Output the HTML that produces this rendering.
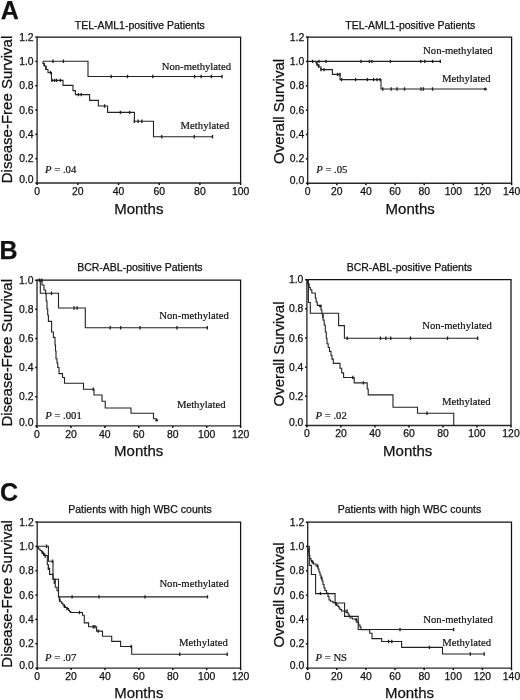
<!DOCTYPE html>
<html>
<head>
<meta charset="utf-8">
<title>Kaplan-Meier survival curves</title>
<style>
html,body{margin:0;padding:0;background:#fff;}
body{width:520px;height:700px;overflow:hidden;font-family:"Liberation Sans",sans-serif;}
svg{display:block;}
.tx{filter:blur(0.3px);}
text{fill:#111;}
</style>
</head>
<body>
<svg width="520" height="700" viewBox="0 0 520 700">
<rect x="0" y="0" width="520" height="700" fill="#ffffff"/>
<g class="ln">
<path d="M37.1,37.1 H240.6 V183.0" fill="none" stroke="#111" stroke-width="1.25"/>
<path d="M37.1,36.6 V183.0 H241.1" fill="none" stroke="#2a2a2a" stroke-width="1.35"/>
<path d="M35.300000000000004,183.00 H37.1" stroke="#111" stroke-width="1.5"/>
<path d="M35.300000000000004,158.68 H37.1" stroke="#111" stroke-width="1.5"/>
<path d="M35.300000000000004,134.37 H37.1" stroke="#111" stroke-width="1.5"/>
<path d="M35.300000000000004,110.05 H37.1" stroke="#111" stroke-width="1.5"/>
<path d="M35.300000000000004,85.73 H37.1" stroke="#111" stroke-width="1.5"/>
<path d="M35.300000000000004,61.42 H37.1" stroke="#111" stroke-width="1.5"/>
<path d="M35.300000000000004,37.10 H37.1" stroke="#111" stroke-width="1.5"/>
<path d="M37.10,183.0 V185.0" stroke="#111" stroke-width="1.5"/>
<path d="M77.80,183.0 V185.0" stroke="#111" stroke-width="1.5"/>
<path d="M118.50,183.0 V185.0" stroke="#111" stroke-width="1.5"/>
<path d="M159.20,183.0 V185.0" stroke="#111" stroke-width="1.5"/>
<path d="M199.90,183.0 V185.0" stroke="#111" stroke-width="1.5"/>
<path d="M240.60,183.0 V185.0" stroke="#111" stroke-width="1.5"/>
<path d="M43,61.3 H88 V76.5 H222.3" fill="none" stroke="#222" stroke-width="1.1" stroke-linejoin="miter"/>
<path d="M43,61.3 V63.5 H44.5 V66 H46 V69.5 H48 V72.5 H51.5 V80.4 H63 V85.4 H73 V90.6 H75.4 V94.6 H89.6 V100.4 H98.4 V106 H107.6 V112.4 H134.4 V121.2 H153.5 V136.75 H213" fill="none" stroke="#222" stroke-width="1.1" stroke-linejoin="miter"/>
<path d="M53,59.6V63.0M63.4,59.6V63.0M111.2,74.8V78.2M127.5,74.8V78.2M152.8,74.8V78.2M194.6,74.8V78.2M201.2,74.8V78.2M211.4,74.8V78.2M222,74.8V78.2M52,78.7V82.1M54.6,78.7V82.1M56.6,78.7V82.1M60.4,78.7V82.1M78.4,92.9V96.3M81.2,92.9V96.3M104.6,104.3V107.7M120.4,110.7V114.1M129.6,110.7V114.1M134.4,119.5V122.9M138.1,119.5V122.9M141.8,119.5V122.9M161.75,135.05V138.45M194.25,135.05V138.45M212.5,135.05V138.45M44,62.8V66.2M46,66.3V69.7M50.5,70.8V74.2" fill="none" stroke="#222" stroke-width="1.35"/>
<path d="M307.7,37.1 H511.6 V183.2" fill="none" stroke="#111" stroke-width="1.25"/>
<path d="M307.7,36.6 V183.2 H512.1" fill="none" stroke="#2a2a2a" stroke-width="1.35"/>
<path d="M305.9,183.20 H307.7" stroke="#111" stroke-width="1.5"/>
<path d="M305.9,158.85 H307.7" stroke="#111" stroke-width="1.5"/>
<path d="M305.9,134.50 H307.7" stroke="#111" stroke-width="1.5"/>
<path d="M305.9,110.15 H307.7" stroke="#111" stroke-width="1.5"/>
<path d="M305.9,85.80 H307.7" stroke="#111" stroke-width="1.5"/>
<path d="M305.9,61.45 H307.7" stroke="#111" stroke-width="1.5"/>
<path d="M305.9,37.10 H307.7" stroke="#111" stroke-width="1.5"/>
<path d="M307.70,183.2 V185.2" stroke="#111" stroke-width="1.5"/>
<path d="M336.83,183.2 V185.2" stroke="#111" stroke-width="1.5"/>
<path d="M365.96,183.2 V185.2" stroke="#111" stroke-width="1.5"/>
<path d="M395.09,183.2 V185.2" stroke="#111" stroke-width="1.5"/>
<path d="M424.21,183.2 V185.2" stroke="#111" stroke-width="1.5"/>
<path d="M453.34,183.2 V185.2" stroke="#111" stroke-width="1.5"/>
<path d="M482.47,183.2 V185.2" stroke="#111" stroke-width="1.5"/>
<path d="M511.60,183.2 V185.2" stroke="#111" stroke-width="1.5"/>
<path d="M307.6,61.4 H440.8" fill="none" stroke="#222" stroke-width="1.1" stroke-linejoin="miter"/>
<path d="M316,61.3 V63 H317 V65 H319 V67 H321 V69.6 H332.4 V74.4 H340 V79.6 H381 V89 H485.5" fill="none" stroke="#222" stroke-width="1.1" stroke-linejoin="miter"/>
<path d="M312.6,59.7V63.1M319,59.7V63.1M326,59.7V63.1M361,59.7V63.1M369.4,59.7V63.1M371.9,59.7V63.1M390.4,59.7V63.1M420.8,59.7V63.1M424.8,59.7V63.1M432.6,59.7V63.1M440.3,59.7V63.1M321,67.9V71.3M324,67.9V71.3M337.6,72.7V76.1M340,72.7V76.1M341.6,77.9V81.3M355.6,77.9V81.3M367.4,77.9V81.3M373.6,77.9V81.3M377,77.9V81.3M380,77.9V81.3M382.8,87.3V90.7M391.1,87.3V90.7M397,87.3V90.7M404.5,87.3V90.7M421,87.3V90.7M423.4,87.3V90.7M432.5,87.3V90.7M317,62.3V65.7M318.5,64.3V67.7" fill="none" stroke="#222" stroke-width="1.35"/>
<circle cx="485.3" cy="89" r="1.5" fill="#222"/>
<path d="M37.0,280.2 H240.6 V425.9" fill="none" stroke="#111" stroke-width="1.25"/>
<path d="M37.0,279.7 V425.9 H241.1" fill="none" stroke="#2a2a2a" stroke-width="1.35"/>
<path d="M35.2,425.90 H37.0" stroke="#111" stroke-width="1.5"/>
<path d="M35.2,396.76 H37.0" stroke="#111" stroke-width="1.5"/>
<path d="M35.2,367.62 H37.0" stroke="#111" stroke-width="1.5"/>
<path d="M35.2,338.48 H37.0" stroke="#111" stroke-width="1.5"/>
<path d="M35.2,309.34 H37.0" stroke="#111" stroke-width="1.5"/>
<path d="M35.2,280.20 H37.0" stroke="#111" stroke-width="1.5"/>
<path d="M37.00,425.9 V427.9" stroke="#111" stroke-width="1.5"/>
<path d="M70.93,425.9 V427.9" stroke="#111" stroke-width="1.5"/>
<path d="M104.87,425.9 V427.9" stroke="#111" stroke-width="1.5"/>
<path d="M138.80,425.9 V427.9" stroke="#111" stroke-width="1.5"/>
<path d="M172.73,425.9 V427.9" stroke="#111" stroke-width="1.5"/>
<path d="M206.67,425.9 V427.9" stroke="#111" stroke-width="1.5"/>
<path d="M240.60,425.9 V427.9" stroke="#111" stroke-width="1.5"/>
<path d="M37.1,280.3 H40.3 V293.3 H58.5 V308 H85.3 V327.8 H207.9" fill="none" stroke="#222" stroke-width="1.1" stroke-linejoin="miter"/>
<path d="M37,280.3 H42 V285 H44 V290 H45.6 V294 H46.2 V301 H47 V309 H47.7 V315 H48.4 V321.4 H51.6 V332 H53.4 V337.4 H55 V345 H55.5 V351 H56 V358.75 H57 V363 H57.75 V367.5 H59 V373.6 H62.5 V377.5 H64.5 V383.25 H83.5 V389.25 H94 V395 H102 V401.25 H105.25 V408 H131 V413.25 H153.5 V418.75 H156.5 V420" fill="none" stroke="#222" stroke-width="1.1" stroke-linejoin="miter"/>
<path d="M51.5,291.6V295.0M74.1,306.3V309.7M77.1,306.3V309.7M110.2,326.1V329.5M120.6,326.1V329.5M140,326.1V329.5M177,326.1V329.5M207.3,326.1V329.5M93.25,387.55V390.95M39.5,278.6V282.0M41.8,278.6V282.0" fill="none" stroke="#222" stroke-width="1.35"/>
<circle cx="156.7" cy="420.3" r="1.3" fill="#222"/>
<path d="M306.9,279.7 H511.0 V425.5" fill="none" stroke="#111" stroke-width="1.25"/>
<path d="M306.9,279.2 V425.5 H511.5" fill="none" stroke="#2a2a2a" stroke-width="1.35"/>
<path d="M305.09999999999997,425.50 H306.9" stroke="#111" stroke-width="1.5"/>
<path d="M305.09999999999997,396.34 H306.9" stroke="#111" stroke-width="1.5"/>
<path d="M305.09999999999997,367.18 H306.9" stroke="#111" stroke-width="1.5"/>
<path d="M305.09999999999997,338.02 H306.9" stroke="#111" stroke-width="1.5"/>
<path d="M305.09999999999997,308.86 H306.9" stroke="#111" stroke-width="1.5"/>
<path d="M305.09999999999997,279.70 H306.9" stroke="#111" stroke-width="1.5"/>
<path d="M306.90,425.5 V427.5" stroke="#111" stroke-width="1.5"/>
<path d="M340.92,425.5 V427.5" stroke="#111" stroke-width="1.5"/>
<path d="M374.93,425.5 V427.5" stroke="#111" stroke-width="1.5"/>
<path d="M408.95,425.5 V427.5" stroke="#111" stroke-width="1.5"/>
<path d="M442.97,425.5 V427.5" stroke="#111" stroke-width="1.5"/>
<path d="M476.98,425.5 V427.5" stroke="#111" stroke-width="1.5"/>
<path d="M511.00,425.5 V427.5" stroke="#111" stroke-width="1.5"/>
<path d="M306.9,279.9 H308.4 V302.5 H310.3 V313.3 H338.6 V325.6 H344.4 V338.3 H478.2" fill="none" stroke="#222" stroke-width="1.1" stroke-linejoin="miter"/>
<path d="M307.6,279.9 V284 H309.2 V287.5 H310.3 V289.8 H311.8 V293 H315.3 V298 H316.1 V302 H317.3 V305.4 H321 V310 H321.9 V314 H323 V320 H324.2 V325 H325.3 V332 H326.3 V338.3 H327 V343.7 H328.2 V347.5 H329.5 V351.4 H331 V355.5 H332 V359.1 H333.3 V363.4 H340 V368.3 H341.7 V372.9 H343.6 V377.5 H354.2 V382.9 H367.2 V389 H368.2 V394.9 H393 V407.2 H417.5 V413.25 H453.75 V425.5" fill="none" stroke="#222" stroke-width="1.1" stroke-linejoin="miter"/>
<path d="M347.2,336.6V340.0M380.5,336.6V340.0M385.9,336.6V340.0M390.7,336.6V340.0M410.5,336.6V340.0M447.5,336.6V340.0M477.6,336.6V340.0M352.8,375.8V379.2M363.4,381.2V384.6M427,411.55V414.95M323,314.5V317.9" fill="none" stroke="#222" stroke-width="1.35"/>
<circle cx="320.2" cy="306.1" r="1.4" fill="#222"/>
<path d="M37.2,522.0 H240.6 V668.1" fill="none" stroke="#111" stroke-width="1.25"/>
<path d="M37.2,521.5 V668.1 H241.1" fill="none" stroke="#2a2a2a" stroke-width="1.35"/>
<path d="M35.400000000000006,668.10 H37.2" stroke="#111" stroke-width="1.5"/>
<path d="M35.400000000000006,643.75 H37.2" stroke="#111" stroke-width="1.5"/>
<path d="M35.400000000000006,619.40 H37.2" stroke="#111" stroke-width="1.5"/>
<path d="M35.400000000000006,595.05 H37.2" stroke="#111" stroke-width="1.5"/>
<path d="M35.400000000000006,570.70 H37.2" stroke="#111" stroke-width="1.5"/>
<path d="M35.400000000000006,546.35 H37.2" stroke="#111" stroke-width="1.5"/>
<path d="M35.400000000000006,522.00 H37.2" stroke="#111" stroke-width="1.5"/>
<path d="M37.20,668.1 V670.1" stroke="#111" stroke-width="1.5"/>
<path d="M71.10,668.1 V670.1" stroke="#111" stroke-width="1.5"/>
<path d="M105.00,668.1 V670.1" stroke="#111" stroke-width="1.5"/>
<path d="M138.90,668.1 V670.1" stroke="#111" stroke-width="1.5"/>
<path d="M172.80,668.1 V670.1" stroke="#111" stroke-width="1.5"/>
<path d="M206.70,668.1 V670.1" stroke="#111" stroke-width="1.5"/>
<path d="M240.60,668.1 V670.1" stroke="#111" stroke-width="1.5"/>
<path d="M37.1,546.3 H48.4 V561.3 H53 V579.2 H58.5 V596.9 H208" fill="none" stroke="#222" stroke-width="1.1" stroke-linejoin="miter"/>
<path d="M37.1,546.3 V547.5 H38.5 V549 H40 V550.5 H41.5 V552 H43 V553.5 H44.3 V555.5 H47.3 V564.8 H48.4 V568.3 H49.6 V574.4 H53 V579.2 H55.3 V587.3 H57 V590.7 H58.5 V596.9 H59.3 V600 H60 V601.7 H61.7 V603.4 H62.9 V604.9 H64.2 V606.3 H65.5 V607.5 H66.9 V608.6 H68.6 V610.4 H69.6 V611.6 H70.7 V612.5 H82.5 V615.2 H84.3 V622.9 H88.6 V626.8 H96.6 V631.1 H102.5 V636.3 H111.7 V641.4 H120.6 V646.5 H131.7 V654.2 H227.7" fill="none" stroke="#222" stroke-width="1.1" stroke-linejoin="miter"/>
<path d="M46.5,544.6V548.0M52.5,559.6V563.0M72.1,595.2V598.6M99,595.2V598.6M145,595.2V598.6M207.5,595.2V598.6M79.5,610.8V614.2M93.2,625.1V628.5M94.9,625.1V628.5M98.2,629.4V632.8M131.2,644.8V648.2M179.7,652.5V655.9M227.2,652.5V655.9M42.3,550.8V554.2M43.8,552.5V555.9M45.2,554.3V557.7M48.4,566.6V570.0M54.3,580.3V583.7M59.8,598.3V601.7M64.4,604.6V608.0M67,606.9V610.3" fill="none" stroke="#222" stroke-width="1.35"/>
<path d="M307.7,522.2 H511.5 V668.1" fill="none" stroke="#111" stroke-width="1.25"/>
<path d="M307.7,521.7 V668.1 H512.0" fill="none" stroke="#2a2a2a" stroke-width="1.35"/>
<path d="M305.9,668.10 H307.7" stroke="#111" stroke-width="1.5"/>
<path d="M305.9,643.78 H307.7" stroke="#111" stroke-width="1.5"/>
<path d="M305.9,619.47 H307.7" stroke="#111" stroke-width="1.5"/>
<path d="M305.9,595.15 H307.7" stroke="#111" stroke-width="1.5"/>
<path d="M305.9,570.83 H307.7" stroke="#111" stroke-width="1.5"/>
<path d="M305.9,546.52 H307.7" stroke="#111" stroke-width="1.5"/>
<path d="M305.9,522.20 H307.7" stroke="#111" stroke-width="1.5"/>
<path d="M307.70,668.1 V670.1" stroke="#111" stroke-width="1.5"/>
<path d="M336.81,668.1 V670.1" stroke="#111" stroke-width="1.5"/>
<path d="M365.93,668.1 V670.1" stroke="#111" stroke-width="1.5"/>
<path d="M395.04,668.1 V670.1" stroke="#111" stroke-width="1.5"/>
<path d="M424.16,668.1 V670.1" stroke="#111" stroke-width="1.5"/>
<path d="M453.27,668.1 V670.1" stroke="#111" stroke-width="1.5"/>
<path d="M482.39,668.1 V670.1" stroke="#111" stroke-width="1.5"/>
<path d="M511.50,668.1 V670.1" stroke="#111" stroke-width="1.5"/>
<path d="M307.6,546.3 H309.3 V565.4 H311.4 V574.5 H315.6 V593.6 H335.1 V603 H344.6 V616.4 H358.2 V629.5 H454" fill="none" stroke="#222" stroke-width="1.1" stroke-linejoin="miter"/>
<path d="M307.8,546.3 V549 H308.4 V552 H309 V555.5 H309.8 V558.6 H311 V560.5 H311.5 V562 H313.5 V564 H316 V566 H318 V569 H319 V572 H320 V575 H321 V578 H322 V581 H323 V584.5 H324 V588 H325 V590.5 H326.5 V593 H328 V596.5 H329 V600 H330.5 V601.3 H333 V602.6 H335.5 V605 H338 V606.5 H339 V608 H340 V609.5 H341.5 V611 H346 V612.5 H348 V614 H349 V616 H350 V618 H352.5 V619 H355.4 V620 H357 V622.5 H358.6 V625 H360 V627 H361 V629.7 H369.7 V633.2 H372 V638.6 H381.7 V641.5 H401.6 V647.4 H442.5 V654 H484.6" fill="none" stroke="#222" stroke-width="1.1" stroke-linejoin="miter"/>
<path d="M320.4,591.7V595.1M400,627.8V631.2M453.6,627.8V631.2M317.6,564.3V567.7M321.6,576.3V579.7M347,609.3V612.7M388.6,639.8V643.2M391.8,639.8V643.2M429.4,645.7V649.1M470.3,652.3V655.7M484.2,652.3V655.7M312.5,560.3V563.7M336.5,602.3V605.7M356.3,618.3V621.7" fill="none" stroke="#222" stroke-width="1.35"/>
</g>
<g class="tx">
<text x="33.6" y="183.4" font-family='"Liberation Sans", sans-serif' font-size="10.4" text-anchor="end" font-weight="normal" font-style="normal" stroke="#111" stroke-width="0.25" >0.0</text>
<text x="33.6" y="162.18" font-family='"Liberation Sans", sans-serif' font-size="10.4" text-anchor="end" font-weight="normal" font-style="normal" stroke="#111" stroke-width="0.25" >0.2</text>
<text x="33.6" y="137.87" font-family='"Liberation Sans", sans-serif' font-size="10.4" text-anchor="end" font-weight="normal" font-style="normal" stroke="#111" stroke-width="0.25" >0.4</text>
<text x="33.6" y="113.55" font-family='"Liberation Sans", sans-serif' font-size="10.4" text-anchor="end" font-weight="normal" font-style="normal" stroke="#111" stroke-width="0.25" >0.6</text>
<text x="33.6" y="89.23" font-family='"Liberation Sans", sans-serif' font-size="10.4" text-anchor="end" font-weight="normal" font-style="normal" stroke="#111" stroke-width="0.25" >0.8</text>
<text x="33.6" y="64.92" font-family='"Liberation Sans", sans-serif' font-size="10.4" text-anchor="end" font-weight="normal" font-style="normal" stroke="#111" stroke-width="0.25" >1.0</text>
<text x="33.6" y="40.6" font-family='"Liberation Sans", sans-serif' font-size="10.4" text-anchor="end" font-weight="normal" font-style="normal" stroke="#111" stroke-width="0.25" >1.2</text>
<text x="37.1" y="194.6" font-family='"Liberation Sans", sans-serif' font-size="10.4" text-anchor="middle" font-weight="normal" font-style="normal" stroke="#111" stroke-width="0.25" >0</text>
<text x="77.8" y="194.6" font-family='"Liberation Sans", sans-serif' font-size="10.4" text-anchor="middle" font-weight="normal" font-style="normal" stroke="#111" stroke-width="0.25" >20</text>
<text x="118.5" y="194.6" font-family='"Liberation Sans", sans-serif' font-size="10.4" text-anchor="middle" font-weight="normal" font-style="normal" stroke="#111" stroke-width="0.25" >40</text>
<text x="159.2" y="194.6" font-family='"Liberation Sans", sans-serif' font-size="10.4" text-anchor="middle" font-weight="normal" font-style="normal" stroke="#111" stroke-width="0.25" >60</text>
<text x="199.9" y="194.6" font-family='"Liberation Sans", sans-serif' font-size="10.4" text-anchor="middle" font-weight="normal" font-style="normal" stroke="#111" stroke-width="0.25" >80</text>
<text x="240.6" y="194.6" font-family='"Liberation Sans", sans-serif' font-size="10.4" text-anchor="middle" font-weight="normal" font-style="normal" stroke="#111" stroke-width="0.25" >100</text>
<text x="139.8" y="28.6" font-family='"Liberation Sans", sans-serif' font-size="10.5" text-anchor="middle" font-weight="normal" font-style="normal" stroke="#111" stroke-width="0.25" >TEL-AML1-positive Patients</text>
<text x="138.8" y="214.1" font-family='"Liberation Sans", sans-serif' font-size="15" text-anchor="middle" font-weight="normal" font-style="normal" stroke="#111" stroke-width="0.25" >Months</text>
<text transform="translate(12.3,109.5) rotate(-90)" font-family='"Liberation Sans", sans-serif' font-size="15" text-anchor="middle" stroke="#111" stroke-width="0.25">Disease-Free Survival</text>
<text x="0.8" y="18.7" font-family='"Liberation Sans", sans-serif' font-size="25" text-anchor="start" font-weight="bold" font-style="normal" stroke="#111" stroke-width="0.25" >A</text>
<text x="161.7" y="69.5" font-family='"Liberation Serif", serif' font-size="10.7" text-anchor="start" font-weight="normal" font-style="normal" stroke="#111" stroke-width="0.2" >Non-methylated</text>
<text x="180.6" y="129.4" font-family='"Liberation Serif", serif' font-size="10.7" text-anchor="start" font-weight="normal" font-style="normal" stroke="#111" stroke-width="0.2" >Methylated</text>
<text x="45" y="173.3" font-family='"Liberation Serif", serif' font-size="10.7" text-anchor="start" font-weight="normal" font-style="normal" stroke="#111" stroke-width="0.2" ><tspan font-style="italic">P</tspan> = .04</text>
<text x="304.2" y="183.6" font-family='"Liberation Sans", sans-serif' font-size="10.4" text-anchor="end" font-weight="normal" font-style="normal" stroke="#111" stroke-width="0.25" >0.0</text>
<text x="304.2" y="162.35" font-family='"Liberation Sans", sans-serif' font-size="10.4" text-anchor="end" font-weight="normal" font-style="normal" stroke="#111" stroke-width="0.25" >0.2</text>
<text x="304.2" y="138.0" font-family='"Liberation Sans", sans-serif' font-size="10.4" text-anchor="end" font-weight="normal" font-style="normal" stroke="#111" stroke-width="0.25" >0.4</text>
<text x="304.2" y="113.65" font-family='"Liberation Sans", sans-serif' font-size="10.4" text-anchor="end" font-weight="normal" font-style="normal" stroke="#111" stroke-width="0.25" >0.6</text>
<text x="304.2" y="89.3" font-family='"Liberation Sans", sans-serif' font-size="10.4" text-anchor="end" font-weight="normal" font-style="normal" stroke="#111" stroke-width="0.25" >0.8</text>
<text x="304.2" y="64.95" font-family='"Liberation Sans", sans-serif' font-size="10.4" text-anchor="end" font-weight="normal" font-style="normal" stroke="#111" stroke-width="0.25" >1.0</text>
<text x="304.2" y="40.6" font-family='"Liberation Sans", sans-serif' font-size="10.4" text-anchor="end" font-weight="normal" font-style="normal" stroke="#111" stroke-width="0.25" >1.2</text>
<text x="307.7" y="194.8" font-family='"Liberation Sans", sans-serif' font-size="10.4" text-anchor="middle" font-weight="normal" font-style="normal" stroke="#111" stroke-width="0.25" >0</text>
<text x="336.83" y="194.8" font-family='"Liberation Sans", sans-serif' font-size="10.4" text-anchor="middle" font-weight="normal" font-style="normal" stroke="#111" stroke-width="0.25" >20</text>
<text x="365.96" y="194.8" font-family='"Liberation Sans", sans-serif' font-size="10.4" text-anchor="middle" font-weight="normal" font-style="normal" stroke="#111" stroke-width="0.25" >40</text>
<text x="395.09" y="194.8" font-family='"Liberation Sans", sans-serif' font-size="10.4" text-anchor="middle" font-weight="normal" font-style="normal" stroke="#111" stroke-width="0.25" >60</text>
<text x="424.21" y="194.8" font-family='"Liberation Sans", sans-serif' font-size="10.4" text-anchor="middle" font-weight="normal" font-style="normal" stroke="#111" stroke-width="0.25" >80</text>
<text x="453.34" y="194.8" font-family='"Liberation Sans", sans-serif' font-size="10.4" text-anchor="middle" font-weight="normal" font-style="normal" stroke="#111" stroke-width="0.25" >100</text>
<text x="482.47" y="194.8" font-family='"Liberation Sans", sans-serif' font-size="10.4" text-anchor="middle" font-weight="normal" font-style="normal" stroke="#111" stroke-width="0.25" >120</text>
<text x="511.6" y="194.8" font-family='"Liberation Sans", sans-serif' font-size="10.4" text-anchor="middle" font-weight="normal" font-style="normal" stroke="#111" stroke-width="0.25" >140</text>
<text x="410.3" y="28.6" font-family='"Liberation Sans", sans-serif' font-size="10.5" text-anchor="middle" font-weight="normal" font-style="normal" stroke="#111" stroke-width="0.25" >TEL-AML1-positive Patients</text>
<text x="410.2" y="214.0" font-family='"Liberation Sans", sans-serif' font-size="15" text-anchor="middle" font-weight="normal" font-style="normal" stroke="#111" stroke-width="0.25" >Months</text>
<text transform="translate(283.7,111.4) rotate(-90)" font-family='"Liberation Sans", sans-serif' font-size="15" text-anchor="middle" stroke="#111" stroke-width="0.25">Overall Survival</text>
<text x="423.1" y="53.8" font-family='"Liberation Serif", serif' font-size="10.7" text-anchor="start" font-weight="normal" font-style="normal" stroke="#111" stroke-width="0.2" >Non-methylated</text>
<text x="441.9" y="82" font-family='"Liberation Serif", serif' font-size="10.7" text-anchor="start" font-weight="normal" font-style="normal" stroke="#111" stroke-width="0.2" >Methylated</text>
<text x="316.2" y="173.3" font-family='"Liberation Serif", serif' font-size="10.7" text-anchor="start" font-weight="normal" font-style="normal" stroke="#111" stroke-width="0.2" ><tspan font-style="italic">P</tspan> = .05</text>
<text x="33.5" y="426.3" font-family='"Liberation Sans", sans-serif' font-size="10.4" text-anchor="end" font-weight="normal" font-style="normal" stroke="#111" stroke-width="0.25" >0.0</text>
<text x="33.5" y="400.26" font-family='"Liberation Sans", sans-serif' font-size="10.4" text-anchor="end" font-weight="normal" font-style="normal" stroke="#111" stroke-width="0.25" >0.2</text>
<text x="33.5" y="371.12" font-family='"Liberation Sans", sans-serif' font-size="10.4" text-anchor="end" font-weight="normal" font-style="normal" stroke="#111" stroke-width="0.25" >0.4</text>
<text x="33.5" y="341.98" font-family='"Liberation Sans", sans-serif' font-size="10.4" text-anchor="end" font-weight="normal" font-style="normal" stroke="#111" stroke-width="0.25" >0.6</text>
<text x="33.5" y="312.84" font-family='"Liberation Sans", sans-serif' font-size="10.4" text-anchor="end" font-weight="normal" font-style="normal" stroke="#111" stroke-width="0.25" >0.8</text>
<text x="33.5" y="283.7" font-family='"Liberation Sans", sans-serif' font-size="10.4" text-anchor="end" font-weight="normal" font-style="normal" stroke="#111" stroke-width="0.25" >1.0</text>
<text x="37.0" y="437.5" font-family='"Liberation Sans", sans-serif' font-size="10.4" text-anchor="middle" font-weight="normal" font-style="normal" stroke="#111" stroke-width="0.25" >0</text>
<text x="70.93" y="437.5" font-family='"Liberation Sans", sans-serif' font-size="10.4" text-anchor="middle" font-weight="normal" font-style="normal" stroke="#111" stroke-width="0.25" >20</text>
<text x="104.87" y="437.5" font-family='"Liberation Sans", sans-serif' font-size="10.4" text-anchor="middle" font-weight="normal" font-style="normal" stroke="#111" stroke-width="0.25" >40</text>
<text x="138.8" y="437.5" font-family='"Liberation Sans", sans-serif' font-size="10.4" text-anchor="middle" font-weight="normal" font-style="normal" stroke="#111" stroke-width="0.25" >60</text>
<text x="172.73" y="437.5" font-family='"Liberation Sans", sans-serif' font-size="10.4" text-anchor="middle" font-weight="normal" font-style="normal" stroke="#111" stroke-width="0.25" >80</text>
<text x="206.67" y="437.5" font-family='"Liberation Sans", sans-serif' font-size="10.4" text-anchor="middle" font-weight="normal" font-style="normal" stroke="#111" stroke-width="0.25" >100</text>
<text x="240.6" y="437.5" font-family='"Liberation Sans", sans-serif' font-size="10.4" text-anchor="middle" font-weight="normal" font-style="normal" stroke="#111" stroke-width="0.25" >120</text>
<text x="139.9" y="270.7" font-family='"Liberation Sans", sans-serif' font-size="10.5" text-anchor="middle" font-weight="normal" font-style="normal" stroke="#111" stroke-width="0.25" >BCR-ABL-positive Patients</text>
<text x="138.7" y="455.6" font-family='"Liberation Sans", sans-serif' font-size="15" text-anchor="middle" font-weight="normal" font-style="normal" stroke="#111" stroke-width="0.25" >Months</text>
<text transform="translate(12.3,352.8) rotate(-90)" font-family='"Liberation Sans", sans-serif' font-size="15" text-anchor="middle" stroke="#111" stroke-width="0.25">Disease-Free Survival</text>
<text x="-0.4" y="259.1" font-family='"Liberation Sans", sans-serif' font-size="25" text-anchor="start" font-weight="bold" font-style="normal" stroke="#111" stroke-width="0.25" >B</text>
<text x="159.3" y="318.8" font-family='"Liberation Serif", serif' font-size="10.7" text-anchor="start" font-weight="normal" font-style="normal" stroke="#111" stroke-width="0.2" >Non-methylated</text>
<text x="176.9" y="407.5" font-family='"Liberation Serif", serif' font-size="10.7" text-anchor="start" font-weight="normal" font-style="normal" stroke="#111" stroke-width="0.2" >Methylated</text>
<text x="45.2" y="418.8" font-family='"Liberation Serif", serif' font-size="10.7" text-anchor="start" font-weight="normal" font-style="normal" stroke="#111" stroke-width="0.2" ><tspan font-style="italic">P</tspan> = .001</text>
<text x="303.4" y="425.9" font-family='"Liberation Sans", sans-serif' font-size="10.4" text-anchor="end" font-weight="normal" font-style="normal" stroke="#111" stroke-width="0.25" >0.0</text>
<text x="303.4" y="399.84" font-family='"Liberation Sans", sans-serif' font-size="10.4" text-anchor="end" font-weight="normal" font-style="normal" stroke="#111" stroke-width="0.25" >0.2</text>
<text x="303.4" y="370.68" font-family='"Liberation Sans", sans-serif' font-size="10.4" text-anchor="end" font-weight="normal" font-style="normal" stroke="#111" stroke-width="0.25" >0.4</text>
<text x="303.4" y="341.52" font-family='"Liberation Sans", sans-serif' font-size="10.4" text-anchor="end" font-weight="normal" font-style="normal" stroke="#111" stroke-width="0.25" >0.6</text>
<text x="303.4" y="312.36" font-family='"Liberation Sans", sans-serif' font-size="10.4" text-anchor="end" font-weight="normal" font-style="normal" stroke="#111" stroke-width="0.25" >0.8</text>
<text x="303.4" y="283.2" font-family='"Liberation Sans", sans-serif' font-size="10.4" text-anchor="end" font-weight="normal" font-style="normal" stroke="#111" stroke-width="0.25" >1.0</text>
<text x="306.9" y="437.1" font-family='"Liberation Sans", sans-serif' font-size="10.4" text-anchor="middle" font-weight="normal" font-style="normal" stroke="#111" stroke-width="0.25" >0</text>
<text x="340.92" y="437.1" font-family='"Liberation Sans", sans-serif' font-size="10.4" text-anchor="middle" font-weight="normal" font-style="normal" stroke="#111" stroke-width="0.25" >20</text>
<text x="374.93" y="437.1" font-family='"Liberation Sans", sans-serif' font-size="10.4" text-anchor="middle" font-weight="normal" font-style="normal" stroke="#111" stroke-width="0.25" >40</text>
<text x="408.95" y="437.1" font-family='"Liberation Sans", sans-serif' font-size="10.4" text-anchor="middle" font-weight="normal" font-style="normal" stroke="#111" stroke-width="0.25" >60</text>
<text x="442.97" y="437.1" font-family='"Liberation Sans", sans-serif' font-size="10.4" text-anchor="middle" font-weight="normal" font-style="normal" stroke="#111" stroke-width="0.25" >80</text>
<text x="476.98" y="437.1" font-family='"Liberation Sans", sans-serif' font-size="10.4" text-anchor="middle" font-weight="normal" font-style="normal" stroke="#111" stroke-width="0.25" >100</text>
<text x="511.0" y="437.1" font-family='"Liberation Sans", sans-serif' font-size="10.4" text-anchor="middle" font-weight="normal" font-style="normal" stroke="#111" stroke-width="0.25" >120</text>
<text x="409.4" y="270.7" font-family='"Liberation Sans", sans-serif' font-size="10.5" text-anchor="middle" font-weight="normal" font-style="normal" stroke="#111" stroke-width="0.25" >BCR-ABL-positive Patients</text>
<text x="407.7" y="455.5" font-family='"Liberation Sans", sans-serif' font-size="15" text-anchor="middle" font-weight="normal" font-style="normal" stroke="#111" stroke-width="0.25" >Months</text>
<text transform="translate(283.7,354) rotate(-90)" font-family='"Liberation Sans", sans-serif' font-size="15" text-anchor="middle" stroke="#111" stroke-width="0.25">Overall Survival</text>
<text x="422.3" y="329.2" font-family='"Liberation Serif", serif' font-size="10.7" text-anchor="start" font-weight="normal" font-style="normal" stroke="#111" stroke-width="0.2" >Non-methylated</text>
<text x="441.9" y="405" font-family='"Liberation Serif", serif' font-size="10.7" text-anchor="start" font-weight="normal" font-style="normal" stroke="#111" stroke-width="0.2" >Methylated</text>
<text x="315.5" y="418.8" font-family='"Liberation Serif", serif' font-size="10.7" text-anchor="start" font-weight="normal" font-style="normal" stroke="#111" stroke-width="0.2" ><tspan font-style="italic">P</tspan> = .02</text>
<text x="33.7" y="668.5" font-family='"Liberation Sans", sans-serif' font-size="10.4" text-anchor="end" font-weight="normal" font-style="normal" stroke="#111" stroke-width="0.25" >0.0</text>
<text x="33.7" y="647.25" font-family='"Liberation Sans", sans-serif' font-size="10.4" text-anchor="end" font-weight="normal" font-style="normal" stroke="#111" stroke-width="0.25" >0.2</text>
<text x="33.7" y="622.9" font-family='"Liberation Sans", sans-serif' font-size="10.4" text-anchor="end" font-weight="normal" font-style="normal" stroke="#111" stroke-width="0.25" >0.4</text>
<text x="33.7" y="598.55" font-family='"Liberation Sans", sans-serif' font-size="10.4" text-anchor="end" font-weight="normal" font-style="normal" stroke="#111" stroke-width="0.25" >0.6</text>
<text x="33.7" y="574.2" font-family='"Liberation Sans", sans-serif' font-size="10.4" text-anchor="end" font-weight="normal" font-style="normal" stroke="#111" stroke-width="0.25" >0.8</text>
<text x="33.7" y="549.85" font-family='"Liberation Sans", sans-serif' font-size="10.4" text-anchor="end" font-weight="normal" font-style="normal" stroke="#111" stroke-width="0.25" >1.0</text>
<text x="33.7" y="525.5" font-family='"Liberation Sans", sans-serif' font-size="10.4" text-anchor="end" font-weight="normal" font-style="normal" stroke="#111" stroke-width="0.25" >1.2</text>
<text x="37.2" y="679.7" font-family='"Liberation Sans", sans-serif' font-size="10.4" text-anchor="middle" font-weight="normal" font-style="normal" stroke="#111" stroke-width="0.25" >0</text>
<text x="71.1" y="679.7" font-family='"Liberation Sans", sans-serif' font-size="10.4" text-anchor="middle" font-weight="normal" font-style="normal" stroke="#111" stroke-width="0.25" >20</text>
<text x="105.0" y="679.7" font-family='"Liberation Sans", sans-serif' font-size="10.4" text-anchor="middle" font-weight="normal" font-style="normal" stroke="#111" stroke-width="0.25" >40</text>
<text x="138.9" y="679.7" font-family='"Liberation Sans", sans-serif' font-size="10.4" text-anchor="middle" font-weight="normal" font-style="normal" stroke="#111" stroke-width="0.25" >60</text>
<text x="172.8" y="679.7" font-family='"Liberation Sans", sans-serif' font-size="10.4" text-anchor="middle" font-weight="normal" font-style="normal" stroke="#111" stroke-width="0.25" >80</text>
<text x="206.7" y="679.7" font-family='"Liberation Sans", sans-serif' font-size="10.4" text-anchor="middle" font-weight="normal" font-style="normal" stroke="#111" stroke-width="0.25" >100</text>
<text x="240.6" y="679.7" font-family='"Liberation Sans", sans-serif' font-size="10.4" text-anchor="middle" font-weight="normal" font-style="normal" stroke="#111" stroke-width="0.25" >120</text>
<text x="140" y="513" font-family='"Liberation Sans", sans-serif' font-size="10.5" text-anchor="middle" font-weight="normal" font-style="normal" stroke="#111" stroke-width="0.25" >Patients with high WBC counts</text>
<text x="138.8" y="698.2" font-family='"Liberation Sans", sans-serif' font-size="15" text-anchor="middle" font-weight="normal" font-style="normal" stroke="#111" stroke-width="0.25" >Months</text>
<text transform="translate(12.3,593.9) rotate(-90)" font-family='"Liberation Sans", sans-serif' font-size="15" text-anchor="middle" stroke="#111" stroke-width="0.25">Disease-Free Survival</text>
<text x="0.1" y="501.1" font-family='"Liberation Sans", sans-serif' font-size="25" text-anchor="start" font-weight="bold" font-style="normal" stroke="#111" stroke-width="0.25" >C</text>
<text x="159.4" y="587" font-family='"Liberation Serif", serif' font-size="10.7" text-anchor="start" font-weight="normal" font-style="normal" stroke="#111" stroke-width="0.2" >Non-methylated</text>
<text x="179.1" y="645.8" font-family='"Liberation Serif", serif' font-size="10.7" text-anchor="start" font-weight="normal" font-style="normal" stroke="#111" stroke-width="0.2" >Methylated</text>
<text x="45" y="661.3" font-family='"Liberation Serif", serif' font-size="10.7" text-anchor="start" font-weight="normal" font-style="normal" stroke="#111" stroke-width="0.2" ><tspan font-style="italic">P</tspan> = .07</text>
<text x="304.2" y="668.5" font-family='"Liberation Sans", sans-serif' font-size="10.4" text-anchor="end" font-weight="normal" font-style="normal" stroke="#111" stroke-width="0.25" >0.0</text>
<text x="304.2" y="647.28" font-family='"Liberation Sans", sans-serif' font-size="10.4" text-anchor="end" font-weight="normal" font-style="normal" stroke="#111" stroke-width="0.25" >0.2</text>
<text x="304.2" y="622.97" font-family='"Liberation Sans", sans-serif' font-size="10.4" text-anchor="end" font-weight="normal" font-style="normal" stroke="#111" stroke-width="0.25" >0.4</text>
<text x="304.2" y="598.65" font-family='"Liberation Sans", sans-serif' font-size="10.4" text-anchor="end" font-weight="normal" font-style="normal" stroke="#111" stroke-width="0.25" >0.6</text>
<text x="304.2" y="574.33" font-family='"Liberation Sans", sans-serif' font-size="10.4" text-anchor="end" font-weight="normal" font-style="normal" stroke="#111" stroke-width="0.25" >0.8</text>
<text x="304.2" y="550.02" font-family='"Liberation Sans", sans-serif' font-size="10.4" text-anchor="end" font-weight="normal" font-style="normal" stroke="#111" stroke-width="0.25" >1.0</text>
<text x="304.2" y="525.7" font-family='"Liberation Sans", sans-serif' font-size="10.4" text-anchor="end" font-weight="normal" font-style="normal" stroke="#111" stroke-width="0.25" >1.2</text>
<text x="307.7" y="679.7" font-family='"Liberation Sans", sans-serif' font-size="10.4" text-anchor="middle" font-weight="normal" font-style="normal" stroke="#111" stroke-width="0.25" >0</text>
<text x="336.81" y="679.7" font-family='"Liberation Sans", sans-serif' font-size="10.4" text-anchor="middle" font-weight="normal" font-style="normal" stroke="#111" stroke-width="0.25" >20</text>
<text x="365.93" y="679.7" font-family='"Liberation Sans", sans-serif' font-size="10.4" text-anchor="middle" font-weight="normal" font-style="normal" stroke="#111" stroke-width="0.25" >40</text>
<text x="395.04" y="679.7" font-family='"Liberation Sans", sans-serif' font-size="10.4" text-anchor="middle" font-weight="normal" font-style="normal" stroke="#111" stroke-width="0.25" >60</text>
<text x="424.16" y="679.7" font-family='"Liberation Sans", sans-serif' font-size="10.4" text-anchor="middle" font-weight="normal" font-style="normal" stroke="#111" stroke-width="0.25" >80</text>
<text x="453.27" y="679.7" font-family='"Liberation Sans", sans-serif' font-size="10.4" text-anchor="middle" font-weight="normal" font-style="normal" stroke="#111" stroke-width="0.25" >100</text>
<text x="482.39" y="679.7" font-family='"Liberation Sans", sans-serif' font-size="10.4" text-anchor="middle" font-weight="normal" font-style="normal" stroke="#111" stroke-width="0.25" >120</text>
<text x="511.5" y="679.7" font-family='"Liberation Sans", sans-serif' font-size="10.4" text-anchor="middle" font-weight="normal" font-style="normal" stroke="#111" stroke-width="0.25" >140</text>
<text x="409.5" y="513" font-family='"Liberation Sans", sans-serif' font-size="10.5" text-anchor="middle" font-weight="normal" font-style="normal" stroke="#111" stroke-width="0.25" >Patients with high WBC counts</text>
<text x="409.5" y="698.2" font-family='"Liberation Sans", sans-serif' font-size="15" text-anchor="middle" font-weight="normal" font-style="normal" stroke="#111" stroke-width="0.25" >Months</text>
<text transform="translate(283.7,595) rotate(-90)" font-family='"Liberation Sans", sans-serif' font-size="15" text-anchor="middle" stroke="#111" stroke-width="0.25">Overall Survival</text>
<text x="423.3" y="622.6" font-family='"Liberation Serif", serif' font-size="10.7" text-anchor="start" font-weight="normal" font-style="normal" stroke="#111" stroke-width="0.2" >Non-methylated</text>
<text x="442.3" y="646.4" font-family='"Liberation Serif", serif' font-size="10.7" text-anchor="start" font-weight="normal" font-style="normal" stroke="#111" stroke-width="0.2" >Methylated</text>
<text x="315.5" y="661.3" font-family='"Liberation Serif", serif' font-size="10.7" text-anchor="start" font-weight="normal" font-style="normal" stroke="#111" stroke-width="0.2" ><tspan font-style="italic">P</tspan> = NS</text>
</g>
</svg>
</body>
</html>
